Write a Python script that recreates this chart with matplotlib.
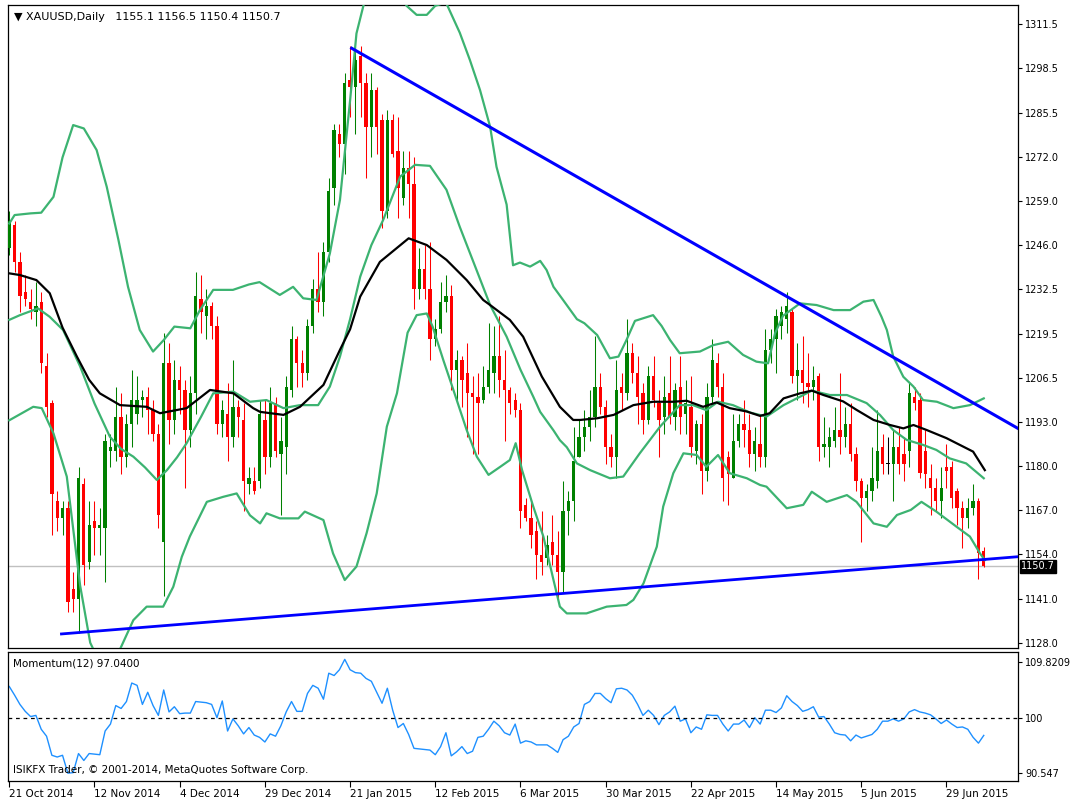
import matplotlib
matplotlib.use('Agg')
import matplotlib.pyplot as plt
import numpy as np

# daily XAUUSD candles, bar 0 = 21 Oct 2014
opens = [1245, 1252, 1241, 1232, 1229, 1226, 1229, 1210, 1199, 1170,
         1165, 1168, 1144, 1141, 1175, 1152, 1164, 1162, 1162, 1185,
         1185, 1195, 1183, 1193, 1196, 1200, 1201, 1197, 1190, 1158,
         1211, 1194, 1206, 1203, 1191, 1202, 1230, 1225, 1228, 1222,
         1193, 1196, 1189, 1198, 1194, 1175, 1176, 1176, 1194, 1183,
         1199, 1184, 1186, 1203, 1218, 1211, 1208, 1222, 1233, 1229,
         1244, 1263, 1279, 1276, 1295, 1293, 1302, 1294, 1281, 1292,
         1283, 1256, 1283, 1274, 1260, 1269, 1264, 1233, 1239, 1233,
         1218, 1221, 1229, 1231, 1209, 1212, 1208, 1202, 1201, 1200,
         1204, 1208, 1213, 1206, 1203, 1200, 1197, 1169, 1165, 1161,
         1154, 1153, 1158, 1154, 1149, 1167, 1170, 1183, 1189, 1192,
         1195, 1204, 1198, 1186, 1183, 1204, 1202, 1214, 1208, 1202,
         1194, 1207, 1199, 1195, 1202, 1195, 1204, 1196, 1198, 1185,
         1193, 1179, 1201, 1211, 1204, 1183, 1177, 1188, 1193, 1191,
         1184, 1187, 1183, 1215, 1218, 1222, 1224, 1226, 1207, 1209,
         1205, 1204, 1207, 1186, 1186, 1188, 1191, 1189, 1193, 1184,
         1176, 1171, 1173, 1176, 1186, 1181, 1181, 1186, 1184, 1185,
         1201, 1200, 1185, 1177, 1174, 1170, 1180, 1180, 1173, 1168,
         1165, 1168, 1170, 1155.1]
highs = [1256, 1253, 1244, 1237, 1233, 1235, 1232, 1214, 1200, 1173,
         1170, 1170, 1149, 1180, 1177, 1170, 1170, 1168, 1190, 1190,
         1204, 1202, 1196, 1209, 1207, 1203, 1204, 1200, 1193, 1220,
         1217, 1212, 1210, 1206, 1207, 1238, 1237, 1233, 1229, 1225,
         1200, 1205, 1212, 1200, 1199, 1180, 1180, 1200, 1200, 1204,
         1201, 1195, 1207, 1222, 1219, 1215, 1224, 1236, 1244, 1247,
         1266, 1282, 1282, 1297, 1305, 1306, 1305, 1297, 1297, 1293,
         1285, 1286, 1285, 1284, 1274, 1274, 1272, 1245, 1246, 1247,
         1224, 1235, 1237, 1234, 1215, 1213, 1217, 1207, 1208, 1210,
         1223, 1222, 1225, 1215, 1204, 1202, 1199, 1171, 1170, 1164,
         1167, 1160, 1166, 1161, 1176, 1173, 1192, 1194, 1197, 1203,
         1219, 1208, 1200, 1190, 1212, 1208, 1224, 1217, 1213, 1205,
         1210, 1213, 1203, 1207, 1213, 1205, 1213, 1206, 1207, 1194,
         1196, 1205, 1218, 1214, 1208, 1185, 1196, 1196, 1200, 1196,
         1192, 1196, 1221, 1221, 1227, 1228, 1232, 1227, 1217, 1219,
         1214, 1210, 1208, 1195, 1192, 1198, 1208, 1198, 1199, 1186,
         1177, 1175, 1186, 1197, 1190, 1189, 1191, 1192, 1189, 1205,
         1204, 1202, 1191, 1181, 1177, 1180, 1187, 1182, 1174, 1170,
         1171, 1175, 1171, 1156.5]
lows = [1243, 1238, 1226, 1228, 1224, 1222, 1208, 1195, 1160, 1161,
        1160, 1137, 1137, 1131, 1145, 1150, 1154, 1154, 1146, 1180,
        1182, 1178, 1180, 1186, 1193, 1195, 1190, 1188, 1162, 1142,
        1187, 1190, 1196, 1174, 1186, 1196, 1220, 1218, 1218, 1190,
        1189, 1182, 1186, 1189, 1167, 1172, 1172, 1174, 1178, 1180,
        1183, 1166, 1178, 1201, 1204, 1204, 1206, 1220, 1226, 1225,
        1241, 1258, 1272, 1267, 1284, 1279, 1284, 1266, 1272, 1273,
        1251, 1254, 1272, 1254, 1258, 1254, 1227, 1230, 1230, 1212,
        1216, 1220, 1226, 1203, 1199, 1198, 1189, 1184, 1184, 1199,
        1202, 1202, 1201, 1188, 1196, 1195, 1162, 1164, 1156, 1147,
        1148, 1151, 1151, 1141, 1143, 1160, 1164, 1183, 1185, 1188,
        1192, 1196, 1181, 1180, 1177, 1197, 1200, 1205, 1193, 1190,
        1193, 1198, 1183, 1190, 1193, 1191, 1190, 1190, 1183, 1181,
        1172, 1176, 1199, 1201, 1170, 1169, 1177, 1186, 1186, 1180,
        1179, 1180, 1180, 1211, 1208, 1218, 1220, 1205, 1200, 1199,
        1198, 1200, 1182, 1183, 1180, 1186, 1184, 1186, 1182, 1173,
        1158, 1167, 1170, 1174, 1178, 1178, 1170, 1178, 1176, 1180,
        1197, 1177, 1174, 1166, 1167, 1165, 1174, 1168, 1163, 1156,
        1162, 1166, 1147, 1150.4]
closes = [1253, 1241, 1231, 1230, 1227, 1228, 1211, 1198, 1172, 1165,
          1168, 1140, 1141, 1177, 1151, 1163, 1162, 1163, 1188, 1186,
          1195, 1183, 1193, 1200, 1200, 1201, 1197, 1190, 1166, 1211,
          1194, 1206, 1203, 1191, 1202, 1231, 1226, 1228, 1222, 1193,
          1197, 1189, 1198, 1195, 1176, 1177, 1173, 1196, 1183, 1199,
          1185, 1188, 1204, 1218, 1211, 1208, 1222, 1233, 1229, 1244,
          1262, 1280, 1276, 1294, 1293, 1301, 1294, 1281, 1292, 1281,
          1256, 1283, 1273, 1263, 1269, 1264, 1233, 1239, 1233, 1218,
          1221, 1229, 1231, 1209, 1212, 1206, 1202, 1201, 1199, 1204,
          1209, 1213, 1206, 1203, 1199, 1197, 1167, 1165, 1160, 1154,
          1152, 1157, 1154, 1149, 1167, 1170, 1182, 1189, 1192, 1195,
          1204, 1198, 1186, 1183, 1203, 1202, 1214, 1208, 1201, 1194,
          1207, 1200, 1194, 1201, 1195, 1203, 1195, 1199, 1186, 1193,
          1179, 1201, 1212, 1204, 1177, 1178, 1188, 1193, 1191, 1184,
          1188, 1183, 1215, 1218, 1225, 1226, 1228, 1207, 1209, 1205,
          1204, 1206, 1186, 1187, 1189, 1191, 1189, 1193, 1184, 1176,
          1171, 1173, 1177, 1185, 1181, 1181, 1186, 1181, 1181, 1202,
          1199, 1178.5, 1178, 1174, 1170, 1174, 1179, 1171, 1168, 1165,
          1168, 1170, 1154.5, 1150.7]

# Momentum(12), one value per bar
momentum = [105.5, 104.0, 102.4, 101.2, 100.3, 100.5, 98.1, 96.9, 93.6, 93.3,
            93.6, 90.5, 90.6, 93.9, 92.7, 93.9, 93.8, 93.7, 97.8, 99.0,
            102.2, 101.7, 102.9, 106.1, 105.7, 102.4, 104.5, 102.2, 100.5, 104.9,
            101.1, 102.0, 100.8, 100.9, 100.9, 102.9, 102.8, 102.7, 102.4, 100.1,
            103.0, 97.8, 99.9, 98.7, 97.3, 98.4, 97.1, 96.7, 95.9, 97.3,
            96.9, 98.7, 101.1, 102.9, 101.2, 101.2, 104.3, 105.7, 105.2, 103.3,
            107.8, 107.4, 108.4, 110.2, 108.4, 107.9, 107.8, 106.9, 106.4, 104.5,
            102.6, 105.2, 101.4, 98.4, 99.1, 97.2, 94.8, 94.7, 94.6, 94.5,
            93.7, 95.1, 97.5, 93.5, 94.2, 95.1, 93.9, 94.3, 96.7, 96.9,
            98.1, 99.5, 98.7, 97.5, 97.1, 99.0, 95.7, 96.1, 95.9, 95.4,
            95.4, 95.4, 94.8, 94.1, 96.3, 96.9, 98.5, 99.1, 102.4, 102.9,
            104.3, 104.3, 103.4, 102.7, 105.1, 105.2, 104.9, 104.0, 102.4, 100.5,
            101.4, 100.5, 98.9, 100.5, 101.1, 102.1, 99.5, 99.9, 97.5, 98.5,
            98.1, 100.6, 100.5, 100.5, 99.0, 97.8, 99.0, 99.0, 99.7, 98.4,
            100.1, 99.0, 101.4, 101.4, 101.0, 101.8, 103.9, 102.9, 102.2, 101.2,
            101.5, 102.0, 100.2, 100.3, 99.0, 97.5, 97.2, 97.1, 96.1, 97.1,
            96.6, 96.9, 97.2, 98.1, 99.5, 99.5, 99.9, 99.5, 99.9, 101.1,
            101.5, 101.1, 100.9, 100.6, 99.9, 99.1, 99.7, 99.0, 98.4, 98.5,
            98.1, 96.7, 95.7, 97.04]

# Bollinger bands and moving average, read as (bar, price) points
bb_upper = [(0, 1252.4), (1, 1254.9), (4, 1255.4), (6, 1255.6), (8.3, 1260.3), (10, 1272),
            (12, 1281.6), (14, 1280.6), (16.4, 1274.2), (18.3, 1263.3), (20.5, 1247.5),
            (22.3, 1233.6), (24.5, 1220.8), (27, 1214.4), (29, 1217.8), (31, 1221.8),
            (34, 1221.3), (35.8, 1226.7), (38.3, 1232.7), (42, 1232.7), (45, 1234.3),
            (47, 1235), (50.8, 1231.2), (53.3, 1233.6), (55.2, 1230.2), (57.7, 1229.7),
            (60.2, 1243.5), (62.1, 1259.4), (64, 1288.9), (65.2, 1308.8), (66.5, 1317),
            (68, 1326), (70, 1332), (72, 1328), (74.6, 1317), (76.5, 1314.3), (78.4, 1314.3),
            (80, 1317), (82, 1318), (84.6, 1309), (86.5, 1300.9), (88.4, 1292), (90.3, 1281.1),
            (91.5, 1269.2), (93.4, 1258), (94.6, 1240), (95.9, 1240.8), (97.8, 1239.6),
            (99.7, 1241.3), (100.9, 1238.6), (102.2, 1233.6), (104, 1229.7), (106.6, 1224),
            (108, 1222.8), (110.4, 1219.3), (112.8, 1212.4), (114.4, 1212.9), (115.9, 1217.8),
            (117.5, 1223.5), (120.9, 1225.2), (122.5, 1222), (124.1, 1217.8), (125.9, 1213.9),
            (129.7, 1214.4), (132.2, 1216.3), (135, 1217.3), (137.8, 1213.4), (140.3, 1211.4),
            (142.5, 1210.9), (143.8, 1219.8), (145.3, 1225), (148.5, 1228.7), (151.6, 1228.2),
            (154.8, 1226.7), (157.9, 1226.7), (160.4, 1229.2), (162.3, 1229.7), (163.8, 1224.7),
            (164.8, 1220.8), (166, 1212.9), (167.9, 1206.9), (169.8, 1204), (171.6, 1200),
            (174.2, 1199.5), (177.3, 1197.6), (180.4, 1198.5), (183, 1200.5)]
bb_middle = [(0, 1223.8), (2, 1225.2), (5.4, 1227.2), (7.6, 1224.7), (10.1, 1220.8), (13.3, 1210),
             (16, 1199), (18.9, 1189.1), (21, 1185.5), (23.3, 1183.2), (25.5, 1180), (27.7, 1176.3),
             (29.6, 1179.2), (31.5, 1183), (33.3, 1187.2), (36, 1195), (38.3, 1202), (42.1, 1202.5),
             (45.2, 1199.5), (48.3, 1200), (51.5, 1197.6), (54.6, 1198.5), (58, 1198.5), (60.2, 1204),
             (62.1, 1212.9), (64, 1224), (65.9, 1236.6), (68, 1246), (70.2, 1253.4), (73.4, 1266.3),
             (76.2, 1269.8), (79, 1269.5), (82.1, 1262.4), (84.6, 1251.4), (87.5, 1239.6),
             (90.3, 1228.2), (93.4, 1218.8), (96, 1209), (98.4, 1201), (99.7, 1196.5), (102.2, 1191),
             (103.4, 1188.1), (104.7, 1186), (106.6, 1181.2), (109.1, 1179.2), (112.8, 1176.8),
             (115.3, 1177.3), (118.4, 1184.2), (122.2, 1192.1), (125.9, 1198.5), (128.4, 1198.5),
             (130.9, 1197), (133.1, 1199.5), (135.9, 1198.5), (139.1, 1196.3), (142.2, 1195.1),
             (145.4, 1198.5), (148.5, 1201), (150.7, 1202.8), (154.1, 1201.5), (157.3, 1201.5),
             (161, 1199.1), (163.5, 1195.6), (166, 1191.1), (168.5, 1188.2), (171.6, 1186.7),
             (174.1, 1185.2), (176.6, 1182.7), (179.7, 1181.2), (183, 1176.8)]
bb_lower = [(0, 1194), (4.5, 1198), (6.1, 1197.6), (8.3, 1190.1), (10.8, 1177.3), (13.3, 1145),
            (15.2, 1128), (17, 1122), (18.9, 1118), (20.2, 1124), (23.3, 1134.7), (25.8, 1138.7),
            (28.9, 1138.7), (30.8, 1144.6), (32.4, 1153.5), (33.9, 1159.5), (37.1, 1169.8),
            (40.2, 1171.3), (42.7, 1172.3), (45.2, 1165.8), (47.1, 1163.4), (48.3, 1166.4),
            (50.8, 1164.9), (54.3, 1164.9), (55.5, 1166.9), (59, 1164.4), (60.8, 1154.5),
            (63, 1146.6), (65.2, 1150.6), (67.1, 1160.5), (69, 1172.3), (70.9, 1192.1), (72.8, 1202),
            (74.8, 1220), (76.5, 1225.2), (78.4, 1225.7), (79.5, 1221.8), (81.5, 1211.9),
            (83.4, 1203), (85.9, 1191.1), (87.8, 1183.2), (90, 1177.8), (92.2, 1180.2), (94, 1182.2),
            (95.1, 1187.2), (96.3, 1179.2), (98.4, 1168.4), (100.3, 1159.5), (102.2, 1146.6),
            (103.4, 1138.7), (104.7, 1136.7), (108.4, 1136.7), (112.2, 1138.7), (115.9, 1139.2),
            (117.2, 1140.7), (119.1, 1145.6), (121.6, 1156.5), (122.8, 1168.4), (124.7, 1178.3),
            (126.6, 1184.2), (129.1, 1183.7), (130.9, 1180.2), (133.1, 1183.7), (135.3, 1178.3),
            (138.5, 1176.8), (141, 1174.8), (142.2, 1174.3), (146, 1167.9), (149.1, 1168.9),
            (150.7, 1172.8), (153.5, 1169.8), (157.3, 1171.8), (159.1, 1169.8), (162.3, 1163.4),
            (164.8, 1162.4), (166.7, 1165.9), (169.3, 1167.4), (171.3, 1169.8), (174.1, 1166.9),
            (177.9, 1162.4), (180.4, 1159.5), (182.3, 1154.5), (183.2, 1152.5)]
ma_line = [(0, 1237.6), (2, 1237.1), (5.1, 1235.6), (7.6, 1231.7), (10, 1221.5), (12.7, 1212.9),
           (15, 1206), (17, 1202), (20.8, 1198.5), (25.8, 1198), (28.3, 1196.1), (33.3, 1197.6),
           (37.7, 1203), (42.1, 1202), (45.8, 1197.6), (47.1, 1196.5), (51.5, 1195.6), (54.6, 1198),
           (59, 1204.5), (62.1, 1214.9), (64, 1221), (65.9, 1230.7), (69.6, 1241), (75, 1248),
           (78.4, 1246), (82.1, 1241.6), (84, 1238.6), (85.9, 1235.6), (89, 1229.7), (90.3, 1228.2),
           (94, 1223.8), (96.5, 1218.8), (100, 1207), (103.4, 1198), (105.9, 1194.1), (107.2, 1194.1),
           (110.4, 1194.6), (113.5, 1195.6), (117.2, 1198.5), (120.9, 1199.5), (124.7, 1199.5),
           (127.2, 1199.8), (130.3, 1198), (132.8, 1199.3), (135.3, 1197.6), (138.5, 1196.6),
           (141, 1195.3), (142.8, 1196.1), (145.4, 1200.5), (148.5, 1202), (150.7, 1202.8),
           (152.9, 1201.5), (156.6, 1199.6), (159.1, 1197.1), (162.3, 1194.1), (165.4, 1192.6),
           (167.9, 1191.6), (169.8, 1192.6), (172.3, 1191.1), (176, 1188.7), (178.5, 1186.7),
           (181, 1184.7), (183.2, 1179.2)]

# trend lines: two anchor points (bar, price), drawn as rays to the right
trend_down = [(64.3, 1304.4), (146.6, 1230.2)]
trend_up = [(9.8, 1130.6), (183.0, 1152.7)]

price_labels = ['1128.0', '1141.0', '1154.0', '1167.0', '1180.0', '1193.0', '1206.5', '1219.5',
                '1232.5', '1246.0', '1259.0', '1272.0', '1285.5', '1298.5', '1311.5']
mom_ticks = [90.547, 100, 109.8209]
mom_labels = ['90.547', '100', '109.8209']
date_bars = [0, 16, 32, 48, 64, 80, 96, 112, 128, 144, 160, 176]
date_labels = ['21 Oct 2014', '12 Nov 2014', '4 Dec 2014', '29 Dec 2014', '21 Jan 2015',
               '12 Feb 2015', '6 Mar 2015', '30 Mar 2015', '22 Apr 2015', '14 May 2015',
               '5 Jun 2015', '29 Jun 2015']

BULL = '#008000'
BEAR = '#ff0000'
BAND = '#3cb371'
W, H = 1070, 801


def fx(px):
    return px / W


def fy(py):
    return 1 - py / H


def main():
    plt.rcParams['font.family'] = ['DejaVu Sans']
    fig = plt.figure(figsize=(W / 100, H / 100), dpi=100)
    ax = fig.add_axes([fx(8), fy(648), fx(1018) - fx(8), fy(5) - fy(648)])
    axm = fig.add_axes([fx(8), fy(781), fx(1018) - fx(8), fy(652) - fy(781)])

    xmin, xmax = -0.24, 189.43
    o, h, l, c = (np.array(a, dtype=float) for a in (opens, highs, lows, closes))
    idx = np.arange(len(c))
    cols = np.where(c > o, BULL, np.where(c < o, BEAR, '#000000'))

    ax.axhline(closes[-1], color='#c0c0c0', lw=1, zorder=1)
    ax.vlines(idx, l, h, colors=cols, lw=0.75, zorder=2)
    body = np.maximum(np.abs(c - o), 0.35)
    ax.bar(idx, body, bottom=np.minimum(o, c), width=0.62, color=cols, linewidth=0, zorder=3)

    for pts, col in ((bb_upper, BAND), (bb_middle, BAND), (bb_lower, BAND), (ma_line, 'black')):
        xs, ys = zip(*pts)
        ax.plot(xs, ys, color=col, lw=1.6, zorder=4, solid_joinstyle='round')

    for (x1, y1), (x2, y2), lw in ((*trend_down, 2.2), (*trend_up, 2.0)):
        slope = (y2 - y1) / (x2 - x1)
        ax.plot([x1, xmax], [y1, y1 + slope * (xmax - x1)], color='#0000ff', lw=lw, zorder=5)

    ax.set_xlim(xmin, xmax)
    ax.set_ylim(1126.43, 1317.23)
    ax.set_xticks([])
    ax.yaxis.tick_right()
    ax.set_yticks([1128 + 13.107 * k for k in range(15)])
    ax.set_yticklabels(price_labels)
    ax.tick_params(axis='y', direction='out', length=3, width=0.8, pad=2, labelsize=7)
    ax.text(1.003, closes[-1], '1150.7', transform=ax.get_yaxis_transform(), color='white',
            fontsize=7, va='center', ha='left',
            bbox=dict(boxstyle='square,pad=0.15', facecolor='black', edgecolor='black'))

    axm.plot(idx, momentum, color='#1e90ff', lw=1.0)
    axm.axhline(100, color='black', lw=0.9, ls=(0, (3, 3)))
    axm.set_xlim(xmin, xmax)
    axm.set_ylim(89.15, 111.47)
    axm.yaxis.tick_right()
    axm.set_yticks(mom_ticks)
    axm.set_yticklabels(mom_labels)
    axm.tick_params(axis='y', direction='out', length=3, width=0.8, pad=2, labelsize=7)
    axm.set_xticks(date_bars)
    axm.set_xticklabels(date_labels, ha='left')
    axm.tick_params(axis='x', direction='out', length=4, width=0.8, pad=2, labelsize=7.5)

    for a in (ax, axm):
        for s in a.spines.values():
            s.set_linewidth(0.9)
            s.set_color('black')

    fig.text(fx(14), fy(17), '\u25bc XAUUSD,Daily   1155.1 1156.5 1150.4 1150.7',
             fontsize=8, va='center', ha='left')
    fig.text(fx(13), fy(664), 'Momentum(12) 97.0400', fontsize=7.5, va='center', ha='left')
    fig.text(fx(13), fy(770), 'ISIKFX Trader, \u00a9 2001-2014, MetaQuotes Software Corp.',
             fontsize=7.5, va='center', ha='left')

    fig.savefig('out.png', dpi=100)


if __name__ == '__main__':
    main()
